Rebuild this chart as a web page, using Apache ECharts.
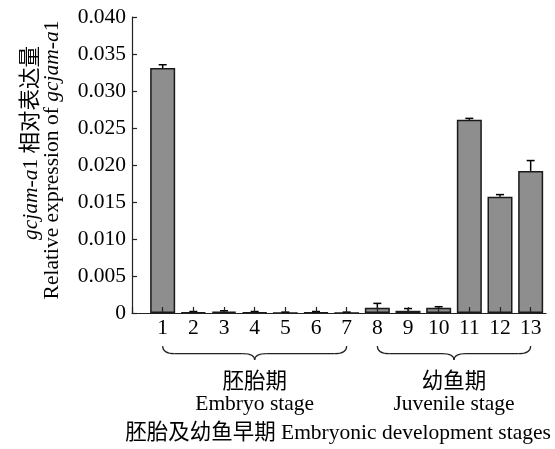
<!DOCTYPE html>
<html>
<head>
<meta charset="utf-8">
<script src="https://cdn.jsdelivr.net/npm/echarts@6/dist/echarts.min.js"></script>
<style>
  html, body { margin: 0; padding: 0; background: #fff; }
  #chart { width: 555px; height: 449px; }
</style>
</head>
<body>
<div id="chart"></div>
<script>
// 各时期编号
var stages = [1, 2, 3, 4, 5, 6, 7, 8, 9, 10, 11, 12, 13];
// 相对表达量 均值 / 误差
var means = [0.0331, 0.0001, 0.0002, 0.0001, 0.00002, 0.0001, 0.00002, 0.0007, 0.0003, 0.0007, 0.0261, 0.0157, 0.0192];
var errors = [0.00045, 0.0001, 0.0001, 0.0001, 0.0001, 0.0001, 0.0001, 0.0006, 0.0003, 0.00015, 0.0002, 0.0003, 0.0014];
var yTicks = [0, 0.005, 0.01, 0.015, 0.02, 0.025, 0.03, 0.035, 0.04];
// 分组: [起, 止, 中文, 英文]
var groups = [[1, 7, '胚胎期', 'Embryo stage'], [8, 13, '幼鱼期', 'Juvenile stage']];

var FONT = '"Liberation Serif", "Noto Sans CJK SC", serif';
var FS = 21.5;

var chart = echarts.init(document.getElementById('chart'));

var barData = stages.map(function (s, i) { return [s, means[i]]; });
var errData = stages.map(function (s, i) { return [s, means[i], errors[i]]; });

var option = {
  animation: false,
  grid: { left: 132, right: 9, top: 17, bottom: 136 },
  xAxis: {
    type: 'value',
    min: 0,
    max: 13.5,
    interval: 1,
    z: 5,
    splitLine: { show: false },
    axisLine: { lineStyle: { color: '#222', width: 1.2 } },
    axisTick: { inside: true, length: 6, lineStyle: { color: '#222', width: 1.2 } },
    axisLabel: {
      color: '#000', fontFamily: FONT, fontSize: FS, margin: 5,
      showMaxLabel: false,
      formatter: function (v) { return stages.indexOf(v) >= 0 ? String(v) : ''; }
    }
  },
  yAxis: {
    type: 'value',
    min: yTicks[0],
    max: yTicks[yTicks.length - 1],
    interval: 0.005,
    splitLine: { show: false },
    axisLine: { show: true, lineStyle: { color: '#222', width: 1.2 } },
    axisTick: { show: true, inside: true, length: 5, lineStyle: { color: '#222', width: 1.2 } },
    axisLabel: {
      color: '#000', fontFamily: FONT, fontSize: FS, margin: 6,
      formatter: function (v) { return v === 0 ? '0' : v.toFixed(3); }
    }
  },
  series: [
    {
      type: 'bar',
      data: barData,
      barWidth: 25,
      itemStyle: { color: '#8e8e8e', borderColor: '#1a1a1a', borderWidth: 1.5 }
    },
    {
      type: 'custom',
      z: 4,
      data: errData,
      renderItem: function (params, api) {
        var x = api.value(0);
        var top = api.coord([x, api.value(1) + api.value(2)]);
        var base = api.coord([x, api.value(1)]);
        var w = 4;
        var st = { stroke: '#000', lineWidth: 1.5 };
        return {
          type: 'group',
          children: [
            { type: 'line', shape: { x1: base[0], y1: base[1], x2: top[0], y2: top[1] }, style: st },
            { type: 'line', shape: { x1: top[0] - w, y1: top[1], x2: top[0] + w, y2: top[1] }, style: st }
          ]
        };
      }
    }
  ]
};
chart.setOption(option);

// 花括号: 由四段二次曲线和两段直线组成
function brace(x1, x2, y0, h) {
  var xm = (x1 + x2) / 2, ym = y0 + h * 0.55, y1 = y0 + h, r = 12;
  var st = { stroke: '#222', lineWidth: 1.2, fill: null };
  return {
    type: 'group',
    children: [
      { type: 'bezierCurve', shape: { x1: x1, y1: y0, cpx1: x1, cpy1: ym, x2: x1 + r, y2: ym }, style: st },
      { type: 'line', shape: { x1: x1 + r, y1: ym, x2: xm - r, y2: ym }, style: st },
      { type: 'bezierCurve', shape: { x1: xm - r, y1: ym, cpx1: xm, cpy1: ym, x2: xm, y2: y1 }, style: st },
      { type: 'bezierCurve', shape: { x1: xm, y1: y1, cpx1: xm, cpy1: ym, x2: xm + r, y2: ym }, style: st },
      { type: 'line', shape: { x1: xm + r, y1: ym, x2: x2 - r, y2: ym }, style: st },
      { type: 'bezierCurve', shape: { x1: x2 - r, y1: ym, cpx1: x2, cpy1: ym, x2: x2, y2: y0 }, style: st }
    ]
  };
}

var graphics = [];
groups.forEach(function (g) {
  var p1 = chart.convertToPixel({ gridIndex: 0 }, [g[0], 0]);
  var p2 = chart.convertToPixel({ gridIndex: 0 }, [g[1], 0]);
  var xm = (p1[0] + p2[0]) / 2;
  graphics.push(brace(p1[0], p2[0], 346, 14));
  graphics.push({
    type: 'text', x: xm, y: 382,
    style: { text: g[2], font: FS + 'px ' + FONT, fill: '#000', align: 'center', verticalAlign: 'middle' }
  });
  graphics.push({
    type: 'text', x: xm, y: 404,
    style: { text: g[3], font: FS + 'px ' + FONT, fill: '#000', align: 'center', verticalAlign: 'middle' }
  });
});

graphics.push({
  type: 'text', x: 338, y: 433,
  style: { text: '胚胎及幼鱼早期 Embryonic development stages', font: FS + 'px ' + FONT, fill: '#000', align: 'center', verticalAlign: 'middle' }
});

graphics.push({
  type: 'text', x: 31, y: 143, rotation: Math.PI / 2,
  style: {
    text: '{i|gcjam-a}1 相对表达量',
    font: FS + 'px ' + FONT, fill: '#000', align: 'center', verticalAlign: 'middle',
    rich: { i: { fontStyle: 'italic', fontFamily: FONT, fontSize: FS } }
  }
});
graphics.push({
  type: 'text', x: 52, y: 160, rotation: Math.PI / 2,
  style: {
    text: 'Relative expression of {i|gcjam-a}1',
    font: FS + 'px ' + FONT, fill: '#000', align: 'center', verticalAlign: 'middle',
    rich: { i: { fontStyle: 'italic', fontFamily: FONT, fontSize: FS } }
  }
});

chart.setOption({ graphic: graphics });
</script>
</body>
</html>
